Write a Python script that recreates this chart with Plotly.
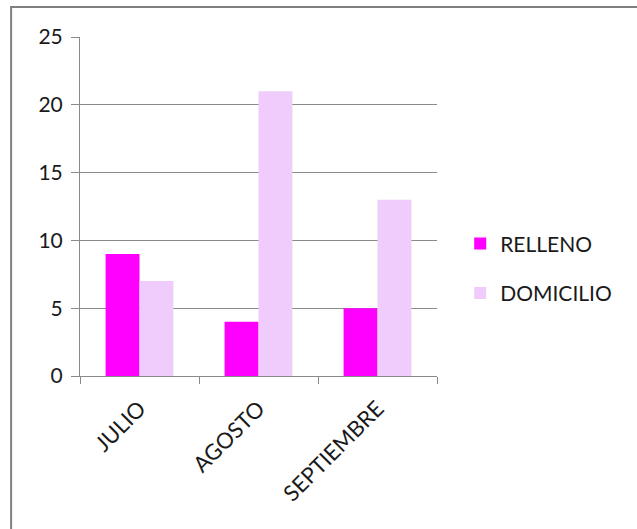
import plotly.graph_objects as go

categories = ["JULIO", "AGOSTO", "SEPTIEMBRE"]
relleno = [9, 4, 5]
domicilio = [7, 21, 13]
y_ticks = [0, 5, 10, 15, 20, 25]

FONT = "Lato"
TXT = "#1a1a1a"
GRID = "#8a8a8a"

fig = go.Figure()
fig.add_trace(go.Bar(x=categories, y=relleno, name="RELLENO",
                     marker=dict(color="#FF00FF", line=dict(width=0)),
                     legendgroup="a"))
fig.add_trace(go.Bar(x=categories, y=domicilio, name="DOMICILIO",
                     marker=dict(color="#EFCCFB", line=dict(width=0)),
                     legendgroup="b"))

fig.update_layout(
    width=637, height=529,
    margin=dict(l=80, r=200, t=37, b=153),
    paper_bgcolor="white", plot_bgcolor="white",
    barmode="group", bargap=0.43, bargroupgap=0,
    font=dict(family=FONT, size=21, color=TXT),
    legend=dict(x=1.065, y=0.45, xanchor="left", yanchor="top",
                font=dict(size=21, color=TXT), tracegroupgap=19,
                traceorder="grouped", itemwidth=30,
                bgcolor="rgba(0,0,0,0)"),
    xaxis=dict(showgrid=False, showline=True, linecolor=GRID, linewidth=1,
               ticks="outside", ticklen=7, tickcolor=GRID, tickson="boundaries",
               tickangle=-45, tickfont=dict(size=22, color=TXT),
               ticklabelstandoff=10),
    yaxis=dict(range=[0, 25], tickvals=y_ticks, showgrid=True, gridcolor=GRID,
               gridwidth=1, showline=True, linecolor=GRID, linewidth=1,
               ticks="outside", ticklen=8, tickcolor=GRID, zeroline=False,
               tickfont=dict(size=21, color=TXT), ticklabelstandoff=4),
    shapes=[dict(type="rect", xref="paper", yref="paper",
                 x0=-0.193, x1=1.7, y0=-0.7, y1=1.0885,
                 line=dict(color="#7f7f7f", width=2), layer="below")],
)

fig.write_html("out.html", config={"displayModeBar": False},
               post_script="document.body.style.margin='0';")
